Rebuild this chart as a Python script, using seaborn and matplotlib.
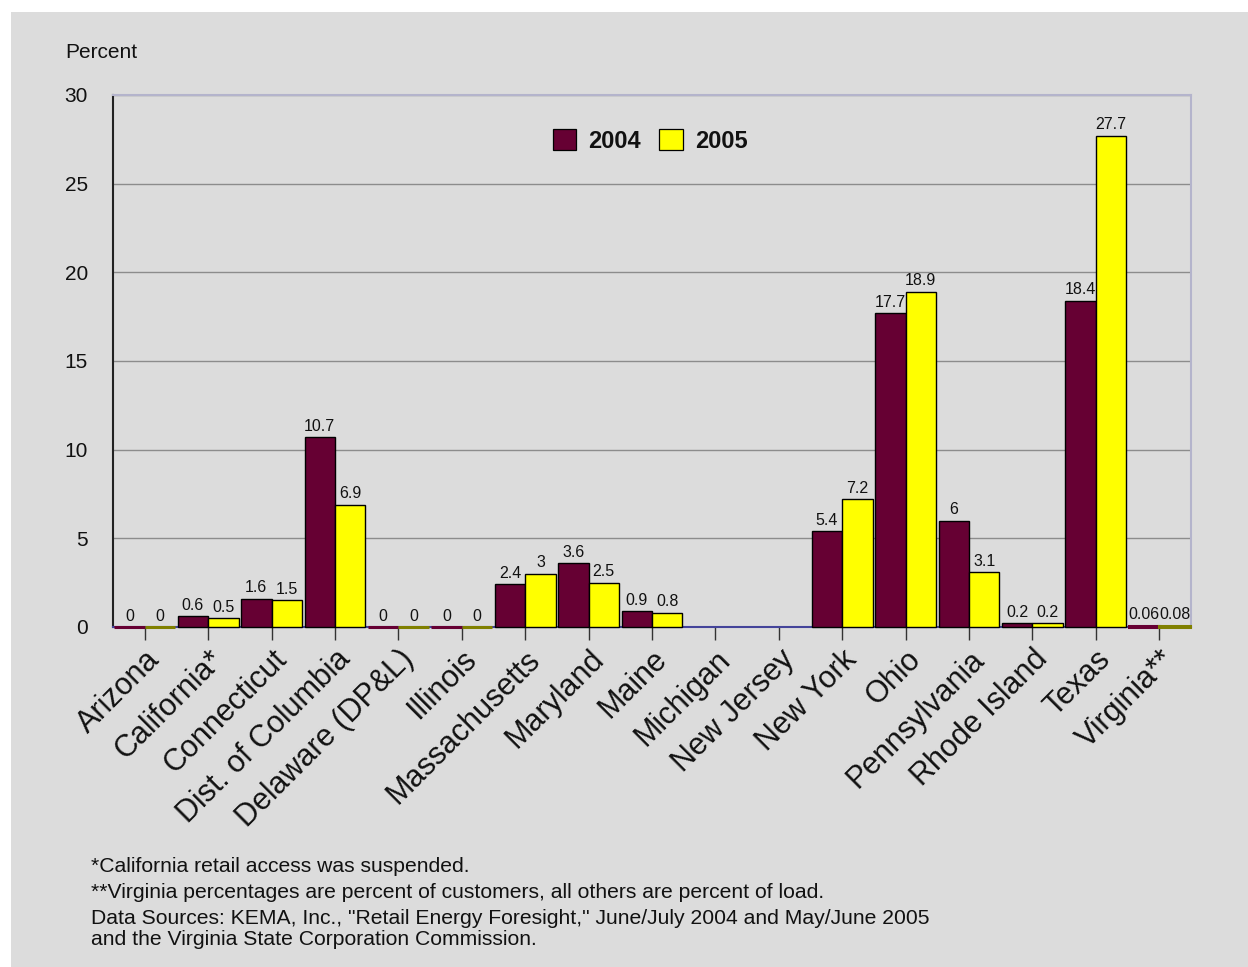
import numpy as np
import pandas as pd
import matplotlib
matplotlib.use("Agg")
import matplotlib.pyplot as plt
from matplotlib.patches import Rectangle, Patch
import seaborn as sns

states = ["Arizona", "California*", "Connecticut", "Dist. of Columbia",
          "Delaware (DP&L)", "Illinois", "Massachusetts", "Maryland", "Maine",
          "Michigan", "New Jersey", "New York", "Ohio", "Pennsylvania",
          "Rhode Island", "Texas", "Virginia**"]
share_2004 = [0, 0.6, 1.6, 10.7, 0, 0, 2.4, 3.6, 0.9, np.nan, np.nan,
              5.4, 17.7, 6, 0.2, 18.4, 0.06]
share_2005 = [0, 0.5, 1.5, 6.9, 0, 0, 3, 2.5, 0.8, np.nan, np.nan,
              7.2, 18.9, 3.1, 0.2, 27.7, 0.08]
years = ["2004", "2005"]
y_ticks = [0, 5, 10, 15, 20, 25, 30]

notes = [
    "*California retail access was suspended.",
    "**Virginia percentages are percent of customers, all others are percent of load.",
    "Data Sources: KEMA, Inc., \"Retail Energy Foresight,\" June/July 2004 and May/June 2005\n"
    "and the Virginia State Corporation Commission.",
]

df = pd.DataFrame({
    "state": states * 2,
    "year": [years[0]] * len(states) + [years[1]] * len(states),
    "share": share_2004 + share_2005,
})

sns.set_theme(style="white")
plt.rcParams["font.family"] = ["Liberation Sans", "DejaVu Sans"]
ink = "#111111"

W, H = 1248, 967
fig = plt.figure(figsize=(W / 100, H / 100), dpi=100, facecolor="white")
panel = "#dcdcdc"
fig.patches.append(Rectangle((11 / W, 0), 1 - 11 / W, 1 - 12 / H,
                             transform=fig.transFigure, facecolor=panel,
                             edgecolor="none", zorder=-10))

ax = fig.add_axes([113 / W, 1 - 627 / H, (1191 - 113) / W, (627 - 95) / H])
ax.set_facecolor(panel)

palette = {"2004": "#660033", "2005": "#ffff00"}
sns.barplot(data=df, x="state", y="share", hue="year", order=states,
            hue_order=years, palette=palette, width=0.96, dodge=True,
            edgecolor="black", linewidth=1.0, saturation=1, ax=ax,
            legend=False, zorder=3)

# zero-height bars still show as a thin strip in their own colour
for bar in ax.patches:
    h = bar.get_height()
    if not np.isnan(h) and h < 0.1:
        bar.set_edgecolor(bar.get_facecolor())
        bar.set_linewidth(2.2)
        if bar.get_facecolor()[:3] == (1.0, 1.0, 0.0):
            bar.set_edgecolor("#808000")
    bar.set_clip_on(False)

# value labels above each bar
for bar in ax.patches:
    h = bar.get_height()
    if np.isnan(h):
        continue
    ax.annotate(f"{h:g}", (bar.get_x() + bar.get_width() / 2, h),
                xytext=(0, 2.5), textcoords="offset points",
                ha="center", va="bottom", fontsize=11.5, color=ink,
                zorder=5)

ax.set_ylim(0, 30)
ax.set_xlim(-0.5, len(states) - 0.5)
ax.set_yticks(y_ticks)
ax.set_yticklabels([str(t) for t in y_ticks], fontsize=15, color=ink)
ax.tick_params(axis="y", length=0, pad=18)
ax.tick_params(axis="x", length=9.5, width=1, color="#333333", direction="out",
               pad=3, bottom=True)
ax.set_xticks(range(len(states)))
ax.set_xticklabels(states, rotation=45, ha="right", rotation_mode="anchor",
                   fontsize=22, color=ink)
ax.set_xlabel("")
ax.set_ylabel("")

ax.grid(axis="y", color="#8c8c8c", linewidth=1, zorder=1)
ax.grid(axis="x", visible=False)
ax.set_axisbelow(True)

for side in ("top", "right"):
    ax.spines[side].set_color("#b4b4cc")
    ax.spines[side].set_linewidth(1.5)
ax.spines["left"].set_color("#222222")
ax.spines["left"].set_linewidth(1.5)
ax.spines["bottom"].set_color("#44449a")
ax.spines["bottom"].set_linewidth(1.5)
ax.spines["bottom"].set_zorder(2.5)

handles = [Patch(facecolor=palette[y], edgecolor="black", linewidth=0.9)
           for y in years]
ax.legend(handles, years, loc="center", bbox_to_anchor=(650 / W, 1 - 141 / H),
          bbox_transform=fig.transFigure, ncol=2, frameon=False,
          prop={"weight": "bold", "size": 17}, handlelength=1.0,
          handleheight=1.0, handletextpad=0.5, columnspacing=0.8,
          labelcolor=ink)

fig.text(65 / W, 1 - 52 / H, "Percent", fontsize=15, ha="left", va="center",
         color=ink)

fig.text(91 / W, 1 - 866 / H, notes[0], fontsize=15.2, ha="left", va="center",
         color=ink)
fig.text(91 / W, 1 - 892 / H, notes[1], fontsize=15.2, ha="left", va="center",
         color=ink)
fig.text(91 / W, 1 - 929 / H, notes[2], fontsize=15.2, ha="left", va="center",
         color=ink, linespacing=1.12)

fig.savefig("out.png", dpi=100, facecolor="white")
